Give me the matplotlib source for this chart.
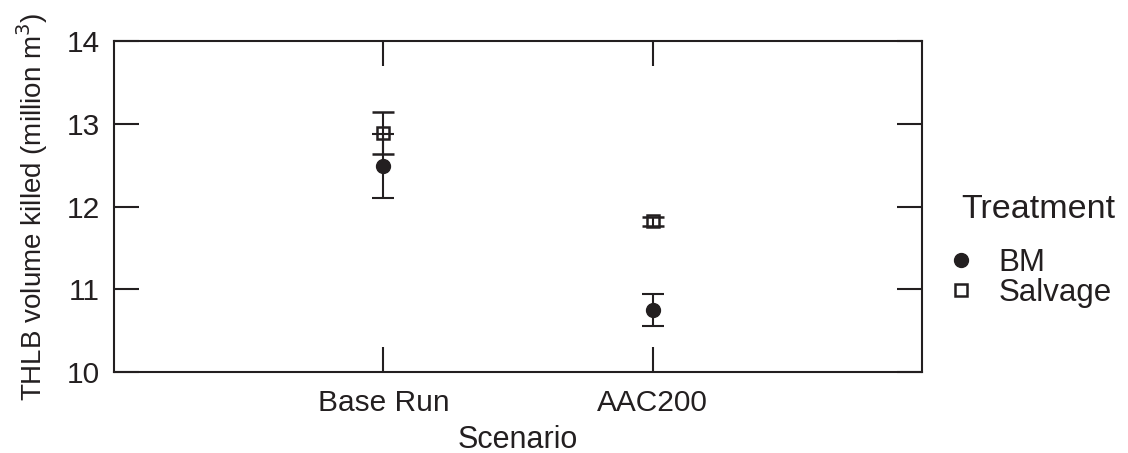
import matplotlib
matplotlib.use("Agg")
import matplotlib.pyplot as plt
from matplotlib.lines import Line2D

plt.rcParams['font.family'] = ['Liberation Sans', 'DejaVu Sans']

scenarios = ["Base Run", "AAC200"]
bm_mean = [12.49, 10.75]
bm_err = [0.39, 0.19]
salvage_mean = [12.89, 11.82]
salvage_err = [0.25, 0.05]
y_ticks = [10, 11, 12, 13, 14]

col = "#231f20"
fig = plt.figure(figsize=(11.28, 4.53), dpi=100)
ax = fig.add_axes([114/1128, 1-372/453, (922-114)/1128, (372-41)/453])

x = [1, 2]
ax.errorbar(x, bm_mean, yerr=bm_err, fmt='o', color=col, ms=10, mfc=col, mec=col,
            ecolor=col, elinewidth=1.5, capsize=8, capthick=1.5, zorder=3)
ax.errorbar(x, salvage_mean, yerr=salvage_err, fmt='s', color=col, ms=8, mfc='none', mec=col,
            mew=1.8, ecolor=col, elinewidth=1.5, capsize=8, capthick=1.5, zorder=3)

ax.set_xlim(0, 3)
ax.set_ylim(10, 14)
ax.set_xticks(x)
ax.set_xticklabels(scenarios)
ax.set_yticks(y_ticks)
ax.tick_params(direction='in', length=18, width=1.5, color=col, labelsize=21.5, pad=10,
               top=True, right=True, labelcolor=col)
ax.tick_params(axis='x', pad=12)
for s in ax.spines.values():
    s.set_linewidth(1.5)
    s.set_color(col)
ax.set_xlabel("Scenario", fontsize=22, color=col, labelpad=6)
ax.set_ylabel("THLB volume killed (million m$^3$)", fontsize=20, color=col, labelpad=12)

handles = [Line2D([], [], marker='o', ls='none', color=col, ms=10),
           Line2D([], [], marker='s', ls='none', mfc='none', mec=col, mew=1.8, ms=8)]
leg = fig.legend(handles, ["BM", "Salvage"], loc='upper left',
                 bbox_to_anchor=(933/1128, 1-232/453), frameon=False, fontsize=22.5,
                 handletextpad=0.8, labelspacing=0.02, borderpad=0, handlelength=0.8)
for t in leg.get_texts():
    t.set_color(col)
fig.text(961/1128, 1-210/453, "Treatment", fontsize=24.5, color=col, ha='left', va='center')

fig.savefig("out.png", dpi=100)
